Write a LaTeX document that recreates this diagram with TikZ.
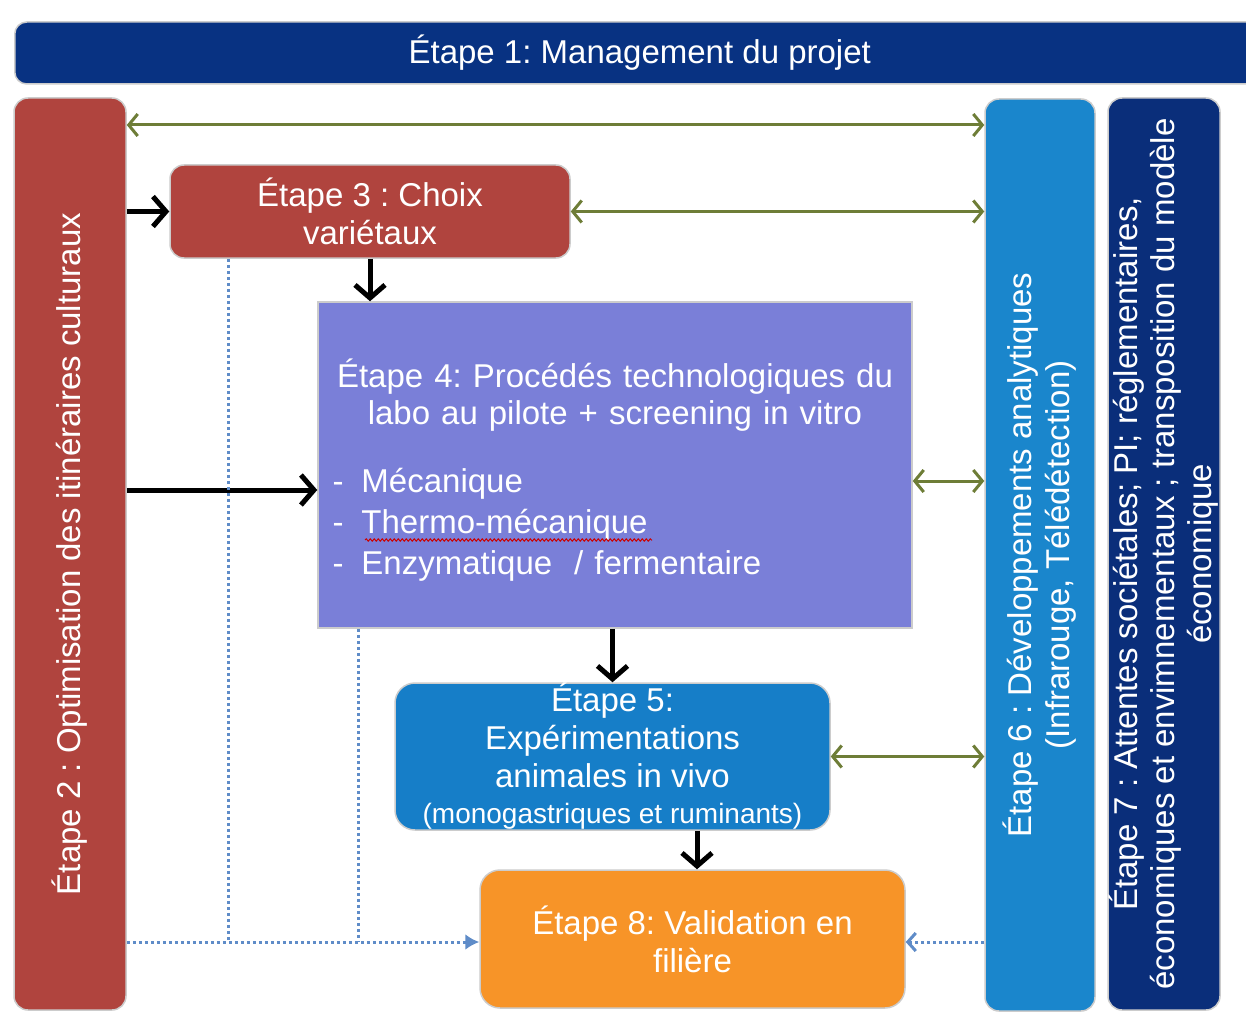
\documentclass[tikz,border=0pt]{standalone}
\usepackage{fontspec}
\setmainfont{Liberation Sans}
\usetikzlibrary{arrows.meta,decorations.pathmorphing}

\definecolor{bleuNuit}{RGB}{8,50,130}
\definecolor{bleuMarine}{RGB}{10,46,122}
\definecolor{rougeBrique}{RGB}{176,68,62}
\definecolor{lavande}{RGB}{122,127,216}
\definecolor{bleuVif}{RGB}{22,126,200}
\definecolor{bleuClair}{RGB}{26,134,204}
\definecolor{orangeVif}{RGB}{247,148,40}
\definecolor{vertOlive}{RGB}{110,125,55}
\definecolor{bleuPoint}{RGB}{95,140,200}

\begin{document}
\frenchspacing
\begin{tikzpicture}  % ------ Etapes du projet --------
      [x=1pt,y=-1pt,
       boite/.style={text=white, align=center, inner sep=0pt, draw=black!20,
                     line width=1.5pt, font=\fontsize{33}{38}\selectfont},
       colonne/.style={boite, rotate=90, rounded corners=14pt, minimum width=912pt},
       vert/.style={vertOlive, line width=3pt, {Straight Barb[length=9pt,width=22pt]}-{Straight Barb[length=9pt,width=22pt]}},
       noir/.style={black, line width=5pt, -{Straight Barb[length=13pt,width=30pt]}},
       pointille/.style={bleuPoint, line width=3pt, dash pattern=on 3pt off 3pt}]

    \useasboundingbox (0,0) rectangle (1246,1011);
    \fill[white] (0,0) rectangle (1246,1011);
    \clip (0,0) rectangle (1246,1011);

    % bandeau et colonnes
    \node[boite, fill=bleuNuit, rounded corners=12pt, minimum width=1250pt, minimum height=62pt, anchor=west]
         (e1) at (14,53) {Étape 1: Management du projet};
    \node[colonne, fill=rougeBrique, minimum height=112pt] (e2) at (70,554)
         {Étape 2 : Optimisation des itinéraires culturaux};
    \node[colonne, fill=bleuClair, minimum height=110pt] (e6) at (1040,555)
         {Étape 6 : Développements analytiques\\(Infrarouge, Télédétection)};
    \node[colonne, fill=bleuMarine, minimum height=112pt, font=\fontsize{33}{37}\selectfont] (e7) at (1164,554)
         {Étape 7 : Attentes sociétales; PI; réglementaires,\\économiques et envimnementaux ; transposition du modèle\\économique};

    % boites centrales
    \node[boite, fill=rougeBrique, rounded corners=14pt, minimum width=400pt, minimum height=93pt]
         (e3) at (370,211.5) {Étape 3 : Choix\\variétaux};
    \node[boite, fill=lavande, minimum width=594pt, minimum height=326pt, text width=565pt, align=left]
         (e4) at (615,465)
         {\mbox{}\\[9pt]
          \parbox{565pt}{\centering\fontsize{33}{37}\selectfont Étape 4: Procédés technologiques du\\labo au pilote + screening in vitro}\\[36pt]
          -\hspace{18pt}Mécanique\\[3pt]
          -\hspace{18pt}Thermo-mécanique\\[3pt]
          -\hspace{18pt}Enzymatique\ \ / fermentaire};
    \node[boite, fill=bleuVif, rounded corners=20pt, minimum width=435pt, minimum height=147pt]
         (e5) at (612.5,756.5)
         {Étape 5:\\Expérimentations\\animales in vivo\\[-2pt]{\fontsize{28}{30}\selectfont(monogastriques et ruminants)}};
    \node[boite, fill=orangeVif, rounded corners=20pt, minimum width=425pt, minimum height=138pt]
         (e8) at (692.5,939) {Étape 8: Validation en\\filière};

    % soulignement du correcteur
    \draw[red!80!black, line width=1pt, decorate, decoration={snake, amplitude=1.2pt, segment length=4pt}]
         (365,540) -- (652,540);

    % liaisons vertes vers l'etape 6
    \draw[vert] (e2.south |- 0,125) -- (e6.north |- 0,125);
    \draw[vert] (e3.east) -- (e6.north |- e3.east);
    \draw[vert] (e4.east |- 0,481) -- (e6.north |- 0,481);
    \draw[vert] (e5.east) -- (e6.north |- e5.east);

    % enchainement des etapes
    \draw[noir] (e2.south |- e3.west) -- (e3.west);
    \draw[noir] (e3.south) -- (e4.north -| e3.south);
    \draw[noir] (e2.south |- 0,490) -- (e4.west |- 0,490);
    \draw[noir] (e4.south -| e5.north) -- (e5.north);
    \draw[noir] (e5.south -| 697,0) -- (e8.north -| 697,0);

    % retours en pointilles vers l'etape 8
    \coordinate (d1) at (228,942);
    \coordinate (d2) at (358,942);
    \draw[pointille] (e3.south -| d1) -- (d1);
    \draw[pointille] (e4.south -| d2) -- (d2);
    \draw[pointille, -{Latex[length=14pt,width=16pt]}] (e2.south |- d1) -- (e8.west |- d1);
    \draw[pointille, -{Straight Barb[length=8pt,width=18pt]}] (e6.north |- d1) -- (e8.east |- d1);
\end{tikzpicture}
\end{document}
